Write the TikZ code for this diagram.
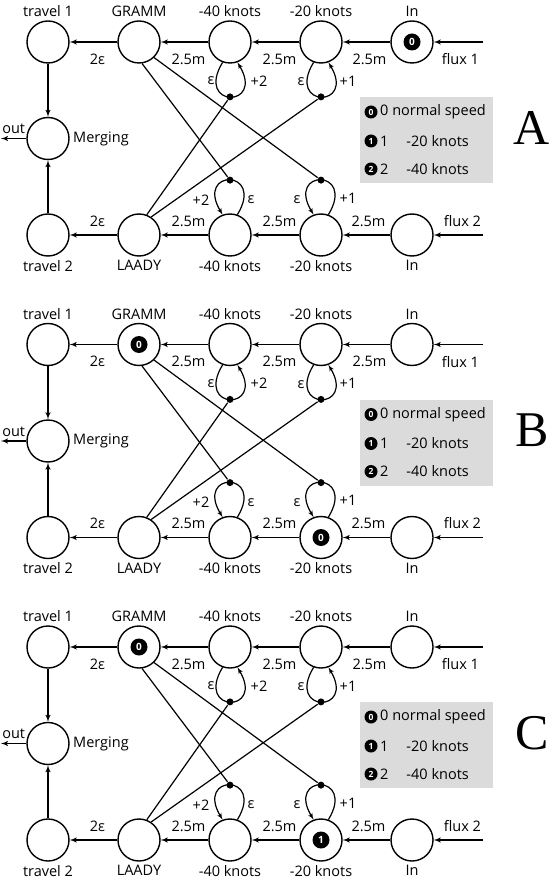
\documentclass[tikz,border=0pt]{standalone}
\usepackage{fontspec}
\setsansfont{Open Sans}
\newfontfamily\panelfont{Liberation Serif}
\usetikzlibrary{arrows,positioning}

% one panel of the net: #1 name prefix, #2 vertical offset, #3 letter
\newcommand{\netpanel}[3]{%
\begin{scope}[shift={(0,#2)}]
 % upper row
 \node [place, label=above:travel 1] (#1-tr1) at (48,42) {};
 \node [place, label=above:GRAMM, right of=#1-tr1] (#1-gramm) {};
 \node [place, label=above:-40 knots, right of=#1-gramm] (#1-k40a) {};
 \node [place, label=above:-20 knots, right of=#1-k40a] (#1-k20a) {};
 \node [place, label=above:In, right of=#1-k20a] (#1-in1) {};
 % merging
 \node [place, label=right:Merging, below of=#1-tr1, node distance=96.5pt] (#1-merge) {};
 % lower row
 \node [place, label=below:travel 2, below of=#1-merge, node distance=96.5pt] (#1-tr2) {};
 \node [place, label=below:LAADY, right of=#1-tr2] (#1-laady) {};
 \node [place, label=below:-40 knots, right of=#1-laady] (#1-k40b) {};
 \node [place, label=below:-20 knots, right of=#1-k40b] (#1-k20b) {};
 \node [place, label=below:In, right of=#1-k20b] (#1-in2) {};
 \coordinate [right of=#1-in1, node distance=71pt] (#1-f1);
 \coordinate [right of=#1-in2, node distance=71pt] (#1-f2);
 \coordinate [left of=#1-merge, node distance=47pt] (#1-out);

 % flow, upper row
 \draw [flow] (#1-f1) -- node [elbl, below=11pt, xshift=2pt] {flux 1} (#1-in1);
 \draw [flow] (#1-in1) -- node [elbl, below=11pt, xshift=3pt] {2.5m} (#1-k20a);
 \draw [flow] (#1-k20a) -- node [elbl, below=11pt, xshift=4pt] {2.5m} (#1-k40a);
 \draw [flow] (#1-k40a) -- node [elbl, below=11pt, xshift=4pt] {2.5m} (#1-gramm);
 \draw [flow] (#1-gramm) -- node [elbl, below=11pt, xshift=4pt] {2ε} (#1-tr1);
 % flow, lower row
 \draw [flow] (#1-f2) -- node [elbl, above=8pt, xshift=4pt] {flux 2} (#1-in2);
 \draw [flow] (#1-in2) -- node [elbl, above=8pt, xshift=2pt] {2.5m} (#1-k20b);
 \draw [flow] (#1-k20b) -- node [elbl, above=8pt, xshift=4pt] {2.5m} (#1-k40b);
 \draw [flow] (#1-k40b) -- node [elbl, above=8pt, xshift=4pt] {2.5m} (#1-laady);
 \draw [flow] (#1-laady) -- node [elbl, above=8pt, xshift=4pt] {2ε} (#1-tr2);
 % merging
 \draw [flow] (#1-tr1) -- (#1-merge);
 \draw [flow] (#1-tr2) -- (#1-merge);
 \draw [flow] (#1-merge) -- node [elbl, above=4pt] {out} (#1-out);

 % self loops, upper row
 \draw [flow, line width=1.2pt] (#1-k40a.-110) .. controls +(-28,46) and +(28,46) .. node [midway, dotn] (#1-d1) {} (#1-k40a.-70);
 \draw [flow, line width=1.2pt] (#1-k20a.-110) .. controls +(-28,46) and +(28,46) .. node [midway, dotn] (#1-d2) {} (#1-k20a.-70);
 \node [elbl] (#1-e1) at ([shift={(-19,39)}]#1-k40a) {ε};
 \node [elbl] (#1-p1) at ([shift={(29,39)}]#1-k40a) {+2};
 \node [elbl] (#1-e2) at ([shift={(-20,40)}]#1-k20a) {ε};
 \node [elbl] (#1-p2) at ([shift={(27,39)}]#1-k20a) {+1};
 % self loops, lower row
 \draw [flow, line width=1.2pt] (#1-k40b.70) .. controls +(28,-46) and +(-28,-46) .. node [midway, dotn] (#1-d3) {} (#1-k40b.110);
 \draw [flow, line width=1.2pt] (#1-k20b.70) .. controls +(28,-46) and +(-28,-46) .. node [midway, dotn] (#1-d4) {} (#1-k20b.110);
 \node [elbl] (#1-p3) at ([shift={(-29,-35)}]#1-k40b) {+2};
 \node [elbl] (#1-e3) at ([shift={(21,-35)}]#1-k40b) {ε};
 \node [elbl] (#1-e4) at ([shift={(-24,-35)}]#1-k20b) {ε};
 \node [elbl] (#1-p4) at ([shift={(27,-37)}]#1-k20b) {+1};

 % crossing links
 \draw [cross] (#1-gramm.-82) -- (#1-d3);
 \draw [cross] (#1-gramm.-46) -- (#1-d4);
 \draw [cross] (#1-laady.69) -- (#1-d1);
 \draw [cross] (#1-laady.56) -- (#1-d2);

 % key
 \node [keybox] (#1-key) at (426.5,140) {};
 \node [keytok] (#1-kt0) at (371,112) {0};
 \node [keytok] (#1-kt1) at (371,141) {1};
 \node [keytok] (#1-kt2) at (371,169) {2};
 \node [keytxt] (#1-kl0) at (380,112) {0 normal speed};
 \node [keytxt] (#1-kl1) at (380,141) {1\hspace{18pt}-20 knots};
 \node [keytxt] (#1-kl2) at (380,169) {2\hspace{18pt}-40 knots};

 % panel letter
 \node (#1-letter) at (532,128) {\panelfont\fontsize{50}{50}\selectfont #3};
\end{scope}}

\begin{document}
\begin{tikzpicture}[
    x=1pt, y=-1pt,
    node distance=91pt,
    >=latex',
    font=\sffamily\fontsize{14.5}{16}\selectfont,
    place/.style={
        circle,
        draw=black,
        line width=1.4pt,
        minimum size=42pt,
        inner sep=0pt
    },
    tokn/.style={
        circle,
        fill=black,
        text=white,
        inner sep=0pt,
        minimum size=17pt,
        font=\sffamily\bfseries\fontsize{10}{10}\selectfont
    },
    keytok/.style={
        tokn,
        minimum size=13pt,
        font=\sffamily\bfseries\fontsize{8.5}{8.5}\selectfont
    },
    keytxt/.style={
        anchor=west,
        inner sep=0pt
    },
    keybox/.style={
        rectangle,
        fill=gray!28,
        minimum width=133pt,
        minimum height=86pt
    },
    dotn/.style={
        circle,
        fill=black,
        inner sep=0pt,
        minimum size=7pt
    },
    flow/.style={->, line width=1.4pt},
    cross/.style={line width=1.2pt},
    elbl/.style={inner sep=0pt}
  ]

 \useasboundingbox (0,0) rectangle (553,882);

 \netpanel{A}{0}{A}
 \node [tokn] (A-tok1) at (A-in1) {0};

 \netpanel{B}{302.5}{B}
 \node [tokn] (B-tok1) at (B-gramm) {0};
 \node [tokn] (B-tok2) at (B-k20b) {0};

 \netpanel{C}{605}{C}
 \node [tokn] (C-tok1) at (C-gramm) {0};
 \node [tokn] (C-tok2) at (C-k20b) {1};

\end{tikzpicture}
\end{document}
